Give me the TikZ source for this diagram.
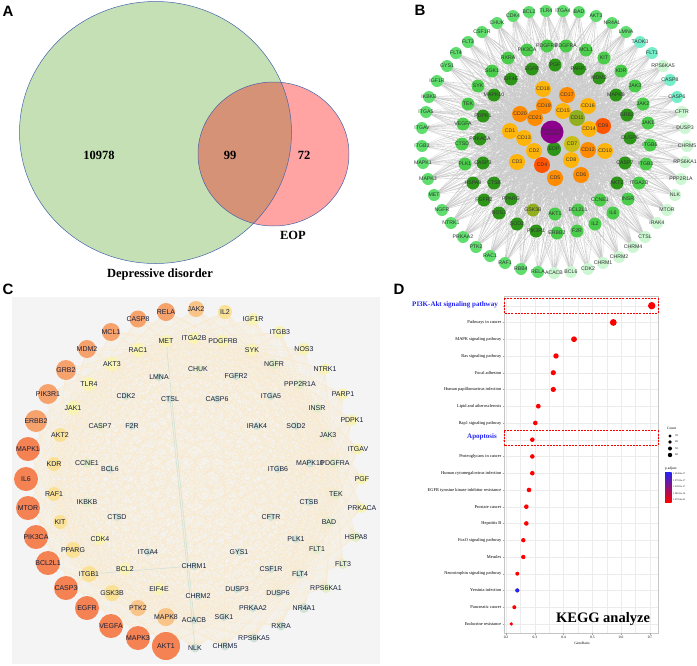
\documentclass[tikz,border=0pt]{standalone}
\usepackage{fontspec}
\setmainfont{Liberation Serif}
\setsansfont{Liberation Sans}

% colours
\definecolor{venngreen}{RGB}{197,224,180}
\definecolor{vennpink}{RGB}{255,163,163}
\definecolor{vennmix}{RGB}{214,146,118}
\definecolor{vennline}{RGB}{70,100,170}
\definecolor{gbright}{RGB}{95,222,110}
\definecolor{gmid}{RGB}{75,205,75}
\definecolor{gdark}{RGB}{45,150,25}
\definecolor{gaqua}{RGB}{115,238,200}
\definecolor{gpale}{RGB}{205,246,210}
\definecolor{cdyel}{RGB}{255,180,10}
\definecolor{cdorg}{RGB}{255,140,0}
\definecolor{cdred}{RGB}{255,85,0}
\definecolor{cdolive}{RGB}{145,175,30}
\definecolor{cdkhaki}{RGB}{200,190,20}
\definecolor{ddpurple}{RGB}{140,0,140}
\definecolor{ca}{RGB}{244,130,82}
\definecolor{cb}{RGB}{246,162,108}
\definecolor{cc}{RGB}{249,196,136}
\definecolor{cd}{RGB}{250,225,150}
\definecolor{ce}{RGB}{250,244,180}
\definecolor{cf}{RGB}{228,238,200}
\definecolor{cg}{RGB}{208,226,214}
\definecolor{ctext}{RGB}{22,32,60}
\definecolor{cback}{RGB}{244,244,244}
\definecolor{cweb}{RGB}{248,234,208}
\definecolor{keggblue}{RGB}{35,35,245}

\tikzset{
  panellab/.style={font=\sffamily\bfseries\fontsize{15}{15}\selectfont, inner sep=0pt},
  venntag/.style={font=\bfseries\fontsize{12.5}{12.5}\selectfont, inner sep=0pt},
  btag/.style={font=\sffamily\fontsize{5.2}{5.2}\selectfont, text=black!80, inner sep=0pt},
  ctag/.style={font=\sffamily\fontsize{7}{7}\selectfont, text=ctext, inner sep=0pt},
  keggrow/.style={font=\fontsize{4.4}{4.4}\selectfont, anchor=east, inner sep=0pt},
  kegghi/.style={font=\bfseries\fontsize{7}{7}\selectfont, text=keggblue, anchor=east, inner sep=0pt},
  tinytag/.style={font=\fontsize{3.6}{3.6}\selectfont, inner sep=0pt},
  hibox/.style={red, line width=0.7pt, dash pattern=on 2pt off 1.2pt},
}

% panel B: name/x/y/colour
\def\bouter{CDK4/513/16/gbright, BCL2/529/12/gbright, TLR4/546/11/gbright,
  ITGA4/563/11/gbright, BAD/579/12/gbright, AKT3/596/16/gbright, NR4A1/612/23/gbright,
  LMNA/626/32/gbright, TAOK3/640/42/gaqua, FLT1/652/53/gaqua, RPS6KA5/663/66/gpale,
  CASP8/670/80/gaqua, CASP6/677/97/gaqua, CFTR/682/112/gpale, DUSP3/685/128/gpale,
  CHRM5/687/146/gpale, RPS6KA1/685/162/gpale, PPP2R1A/681/179/gpale, NLK/675/195/gpale,
  MTOR/667/210/gpale, IRAK4/657/223/gpale, CTSL/645/237/gpale, CHRM4/633/247/gpale,
  CHRM2/619/257/gpale, CHRM1/603/263/gpale, CDK2/588/269/gpale, BCL6/571/272/gpale,
  ACACB/554/273/gpale, RELA/538/272/gbright, RBB4/521/269/gbright, RAF1/505/263/gbright,
  RAC1/490/256/gbright, PTK2/476/247/gbright, PRKAA2/463/237/gbright, NTRK1/451/223/gbright,
  NGFR/442/210/gbright, MET/434/195/gbright, MAPK3/428/179/gbright, MAPK1/423/163/gbright,
  ITGB3/422/146/gbright, ITGAV/422/128/gbright, ITGA5/426/112/gbright, IKBKB/429/97/gbright,
  IGF1R/437/81/gbright, GYS1/447/66/gbright, FLT4/456/53/gbright, FLT3/468/42/gbright,
  CSF1R/482/32/gbright, CHUK/497/23/gbright}
\def\binner{PIK3CA/527/50/gmid, PDGFRB/547/46/gmid, PDGFRA/566/46/gmid, MCL1/586/50/gmid,
  KIT/604/58/gmid, KDR/621/71/gmid, JAK3/635/86/gmid, JAK2/643/104/gmid, JAK1/648/123/gmid,
  ITGB6/650/145/gmid, ITGB1/646/164/gmid, ITGA2B/639/183/gmid, INSR/628/199/gmid,
  IL6/613/213/gmid, IL2/595/224/gmid, F2R/577/231/gmid, ERBB2/557/233/gmid,
  PIK3R1/536/231/gdark, SOD2/517/224/gdark, NOS3/499/213/gdark, FGFR2/484/200/gdark,
  HSPA8/473/183/gdark, PLK1/465/164/gmid, CTSD/462/144/gmid, VEGFA/463/124/gmid,
  TEK/468/104/gmid, SYK/478/86/gmid, SGK1/492/71/gmid, RXRA/508/58/gmid,
  EGFR/532/69/gdark, PGF/555/65/gdark, PARP1/579/69/gdark, MDM2/599/78/gdark,
  MAPK8/616/95/gdark, GRB2/627/115/gdark, DUSP6/630/138/gdark, CASP7/625/163/gdark,
  AKT2/617/183/gdark, CCNE1/600/200/gmid, BCL2L1/578/210/gmid, AKT1/555/214/gmid,
  GSK3B/533/210/cdolive, PPARG/511/199/gdark, CTSB/494/183/gdark, CASP3/483/163/gdark,
  PRKACA/480/139/gdark, PDPK1/483/116/gdark, MAPK10/494/95/gdark, EIF4E/511/79/gdark}
\def\bcds{CD18/543/89/cdyel, CD17/567/95/cdorg, CD16/588/106/cdyel, CD19/544/106/cdorg,
  CD20/520/114/cdorg, CD15/563/111/cdyel, CD21/535/118/cdorg, CD11/577/118/cdolive,
  CD9/603/126/cdred, CD14/589/129/cdyel, CD1/510/131/cdyel, CD13/524/138/cdyel,
  CD7/572/144/cdkhaki, CD2/534/151/cdyel, CD12/588/150/cdorg, CD10/605/151/cdyel,
  CD3/517/162/cdyel, CD4/542/165/cdred, CD8/571/160/cdyel, CD5/555/178/cdorg,
  CD6/581/175/cdorg}

% panel C: name/x/y/radius/colour
\def\couter{CASP8/138/319/8.5/cb, RELA/166/312/9/cb, JAK2/196/309/8/cc, IL2/225/312/7/cd,
  IGF1R/253/319/6/ce, ITGB3/280/332/6/ce, NOS3/304/349/6/ce, NTRK1/325/369/5.5/ce,
  PARP1/343/394/5.5/ce, PDPK1/352/420/5.5/ce, ITGAV/358/449/5.5/ce, PGF/362/479/5.5/ce,
  PRKACA/362/508/5/ce, HSPA8/356/537/5/cf, FLT3/343/564/5/cf, RPS6KA1/326/588/5/cf,
  NR4A1/304/608/5/cg, RXRA/281/626/4.5/cg, RPS6KA5/254/638/4.5/cg, CHRM5/225/646/4.5/cg,
  NLK/195/648/4.5/cg, AKT1/166/646/14/ca, MAPK3/138/638/12/ca, VEGFA/111/626/12/ca,
  EGFR/87/608/12/ca, CASP3/66/588/12/ca, BCL2L1/48/563/12/ca, PIK3CA/36/537/12/ca,
  MTOR/28/508/12/ca, IL6/26/479/12/ca, MAPK1/28/449/12/ca, ERBB2/36/421/11/cb,
  PIK3R1/48/394/10/cb, GRB2/66/370/10/cb, MDM2/87/349/9/cb, MCL1/111/332/9/cb}
\def\cmiddle{MET/166/341/6/ce, ITGA2B/194/338/6/ce, PDGFRB/223/341/6/ce, SYK/252/350/6/ce,
  NGFR/274/364/5/cf, PPP2R1A/300/384/5/cf, INSR/317/408/5/cf, JAK3/328/435/5/cf,
  MAPK10/310/463/4.5/cg, PDGFRA/335/463/5/cf, TEK/336/494/5/cf, BAD/329/522/5/cf,
  FLT1/317/549/5/cf, FLT4/300/574/4.5/cg, DUSP6/278/593/4/cg, SGK1/224/617/4/cg,
  ACACB/194/620/4/cg, MAPK8/166/617/9/cc, PTK2/138/608/8/cc, GSK3B/112/593/8/cd,
  ITGB1/89/574/8/cd, PPARG/73/550/8/cd, KIT/60/522/7/cd, RAF1/54/494/7/cd,
  KDR/54/464/7/cd, AKT2/60/435/7/cd, JAK1/73/408/7/ce, TLR4/89/384/7/ce,
  AKT3/112/364/7/ce, RAC1/138/350/7/ce}
\def\cinner{CHUK/198/369/4/cf, FGFR2/236/376/4/cg, ITGA5/271/396/4/cg, SOD2/296/426/4/cg,
  ITGB6/278/469/4/cg, CTSB/309/502/4/cg, PLK1/296/539/4/cg, CSF1R/271/569/4/cg,
  DUSP3/237/589/4/cg, PRKAA2/253/608/4/cg, CHRM2/198/596/4/cg, EIF4E/159/589/6/ce,
  BCL2/125/569/6/ce, CDK4/100/539/6/ce, IKBKB/87/502/5/cf, CCNE1/87/463/5/cf,
  CASP7/100/426/4/cf, CDK2/126/396/4/cg, LMNA/159/377/4/cg, CTSL/170/399/4/cg,
  CASP6/217/399/4/cg, IRAK4/257/426/4/cg, F2R/132/426/4/cg, BCL6/110/469/4/cg,
  CTSD/117/517/4/cg, ITGA4/148/552/4/cg, CHRM1/194/566/4/cg, GYS1/239/552/4/cg,
  CFTR/271/517/4/cg}

\begin{document}
\begin{tikzpicture}[x=1pt,y=-1pt]
  \useasboundingbox (0,0) rectangle (697,665);

  % ---- A: venn
  \fill[venngreen] (155.5,132.5) ellipse [x radius=136, y radius=131];
  \fill[vennpink] (273.5,154) ellipse [x radius=75.5, y radius=72];
  \begin{scope}
    \clip (155.5,132.5) ellipse [x radius=136, y radius=131];
    \fill[vennmix] (273.5,154) ellipse [x radius=75.5, y radius=72];
  \end{scope}
  \draw[vennline, line width=0.5pt] (155.5,132.5) ellipse [x radius=136, y radius=131];
  \draw[vennline, line width=0.5pt] (273.5,154) ellipse [x radius=75.5, y radius=72];
  \node[venntag] (only-dd) at (99,155) {10978};
  \node[venntag] (both) at (230,155) {99};
  \node[venntag] (only-eop) at (304,155) {72};
  \node[venntag] (lab-eop) at (293,235) {EOP};
  \node[venntag] (lab-dd) at (160,274) {Depressive disorder};
  \node[panellab] (pa) at (8,11) {A};

  % ---- B: network
  \foreach \nm/\px/\py/\cl in \bouter {\coordinate (b-\nm) at (\px,\py);}
  \foreach \nm/\px/\py/\cl in \binner {\coordinate (b-\nm) at (\px,\py);}
  \foreach \nm/\px/\py/\cl in \bcds {\coordinate (b-\nm) at (\px,\py);}
  \coordinate (b-EOP) at (554,149);
  \coordinate (b-DD) at (552,132);
  \draw[gray!40, line width=0.12pt]
    \foreach \nm/\px/\py/\cl in \bouter {\foreach \cd/\qx/\qy/\ql in \bcds {(b-\nm) -- (b-\cd)}}
    \foreach \nm/\px/\py/\cl in \binner {\foreach \cd/\qx/\qy/\ql in \bcds {(b-\nm) -- (b-\cd)}};
  \foreach \nm/\px/\py/\cl in \bouter {
    \fill[\cl] (b-\nm) circle (6);
    \node[btag] (bt-\nm) at (b-\nm) {\nm};
  }
  \foreach \nm/\px/\py/\cl in \binner {
    \fill[\cl] (b-\nm) circle (6.5);
    \node[btag] (bt-\nm) at (b-\nm) {\nm};
  }
  \foreach \nm/\px/\py/\cl in \bcds {
    \fill[\cl] (b-\nm) circle (8);
    \node[btag] (bt-\nm) at (b-\nm) {\nm};
  }
  \fill[gdark] (b-EOP) circle (7);
  \node[btag] (bt-EOP) at (b-EOP) {EOP};
  \fill[ddpurple] (b-DD) circle (11.5);
  \node[btag, align=center, font=\sffamily\fontsize{4}{4.6}\selectfont] (bt-DD) at (b-DD) {Depressive\\disorder};
  \node[panellab] (pb) at (420,10) {B};

  % ---- C: network
  \fill[cback] (12,297) rectangle (380,664);
  \foreach \nm/\px/\py/\rd/\cl in \couter {\coordinate (c-\nm) at (\px,\py);}
  \foreach \nm/\px/\py/\rd/\cl in \cmiddle {\coordinate (c-\nm) at (\px,\py);}
  \foreach \nm/\px/\py/\rd/\cl in \cinner {\coordinate (c-\nm) at (\px,\py);}
  \draw[cweb, line width=0.15pt]
    \foreach \nm/\px/\py/\rd/\cl in \couter {\foreach \ot/\qx/\qy/\qr/\ql in \cmiddle {(c-\nm) -- (c-\ot)}};
  \draw[cg, line width=0.6pt] (c-CTSL) -- (c-NLK) (c-ITGB1) -- (c-CHRM1) (c-MET) -- (c-ACACB);
  \foreach \nm/\px/\py/\rd/\cl in \couter {
    \fill[\cl] (c-\nm) circle (\rd);
    \node[ctag] (ct-\nm) at (c-\nm) {\nm};
  }
  \foreach \nm/\px/\py/\rd/\cl in \cmiddle {
    \fill[\cl] (c-\nm) circle (\rd);
    \node[ctag] (ct-\nm) at (c-\nm) {\nm};
  }
  \foreach \nm/\px/\py/\rd/\cl in \cinner {
    \fill[\cl] (c-\nm) circle (\rd);
    \node[ctag] (ct-\nm) at (c-\nm) {\nm};
  }
  \node[panellab] (pc) at (8,289) {C};

  % ---- D: KEGG dot plot
  \node[panellab] (pd) at (399,289) {D};
  \fill[white] (504,296) rectangle (658,633);
  \foreach \k in {0,...,10} \draw[gray!15, line width=0.3pt] (506+14.4*\k,296) -- (506+14.4*\k,633);
  \foreach \k in {0,...,19} \draw[gray!15, line width=0.3pt] (504,305.7+16.75*\k) -- (658,305.7+16.75*\k);
  \draw[gray!45, line width=0.5pt] (504,296) rectangle (658,633);
  \foreach \lab [count=\k from 0] in {,Pathways in cancer,MAPK signaling pathway,Ras signaling pathway,
      Focal adhesion,Human papillomavirus infection,Lipid and atherosclerosis,Rap1 signaling pathway,,
      Proteoglycans in cancer,Human cytomegalovirus infection,EGFR tyrosine kinase inhibitor resistance,
      Prostate cancer,Hepatitis B,FoxO signaling pathway,Measles,Neurotrophin signaling pathway,
      Yersinia infection,Pancreatic cancer,Endocrine resistance} {
    \draw[gray!70, line width=0.3pt] (502.5,305.7+16.75*\k) -- (504,305.7+16.75*\k);
    \node[keggrow] (row\k) at (501.5,305.7+16.75*\k) {\lab};
  }
  \node[kegghi] (row-pi3k) at (498,304.7) {PI3K-Akt signaling pathway};
  \node[kegghi] (row-apop) at (497,436.7) {Apoptosis};
  \foreach \px/\rd [count=\k from 0] in {651.7/3.7,613.3/3.4,574/2.9,556/2.7,553.3/2.6,553.3/2.6,
      538.3/2.4,535.3/2.3,532.3/2.3,532.3/2.3,532.3/2.3,529/2.3,526.3/2.3,526.3/2.3,523.3/2.2,
      523.3/2.2,517.3/2.0,517.3/2.0,514.3/2.0,511.3/1.8}
    \fill[red] (\px,305.7+16.75*\k) circle (\rd);
  \fill[keggblue] (517.3,590.4) circle (2.0);
  \draw[hibox] (504,298.3) rectangle (658,313.3);
  \draw[hibox] (504,430.7) rectangle (658,445.7);
  \foreach \v [count=\k from 0] in {0.2,0.3,0.4,0.5,0.6,0.7} {
    \draw[gray!70, line width=0.3pt] (506+28.8*\k,633) -- (506+28.8*\k,634.5);
    \node[tinytag] (tick\k) at (506+28.8*\k,637.5) {\v};
  }
  \node[tinytag] (xlab) at (582,643) {GeneRatio};
  \node[font=\bfseries\fontsize{14.5}{14.5}\selectfont, inner sep=0pt] (kegg) at (603,619) {KEGG analyze};
  % legend
  \node[tinytag, anchor=west] (cnt) at (667,428) {Count};
  \foreach \rd/\py/\v in {1.6/436/30,1.8/442/40,2.0/448.5/50,2.2/455/60} {
    \fill[black] (670,\py) circle (\rd);
    \node[tinytag, anchor=west, font=\fontsize{2.8}{2.8}\selectfont] (cnt\v) at (675,\py) {\v};
  }
  \node[tinytag, anchor=west] (padj) at (665,469) {p.adjust};
  \shade[top color=keggblue, bottom color=red] (665,472) rectangle (671.5,502);
  \foreach \py/\v in {474/1.65456e-17,480.5/1.27532e-17,487/1.31835e-17,493.5/1.09915e-16,500/1.67554e-03}
    \node[tinytag, anchor=west, font=\fontsize{2.4}{2.4}\selectfont] at (673,\py) {\v};
\end{tikzpicture}
\end{document}
